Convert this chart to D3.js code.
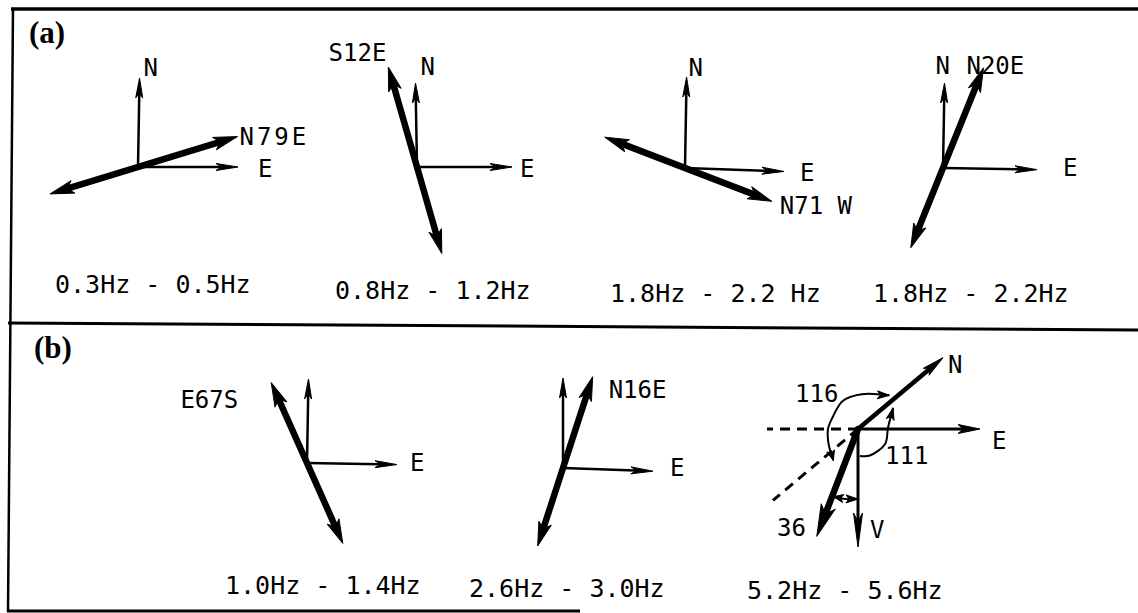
<!DOCTYPE html>
<html><head><meta charset="utf-8">
<script src="https://cdn.jsdelivr.net/npm/d3@7"></script>
<style>html,body{margin:0;padding:0;background:#fff;} svg{display:block}</style>
</head><body>
<svg id="c" width="1138" height="613"></svg>
<script>
// ================= DATA =================
const panelNames = ["(a)", "(b)"];
const freqBands = ["0.3Hz - 0.5Hz", "0.8Hz - 1.2Hz", "1.8Hz - 2.2 Hz", "1.8Hz - 2.2Hz",
                   "1.0Hz - 1.4Hz", "2.6Hz - 3.0Hz", "5.2Hz - 5.6Hz"];
// two-component diagrams (a1..a4, b1, b2)
const polLabels   = ["N79E", "S12E", "N71 W", "N20E", "E67S", "N16E"];
const polAzimuth  = [73, 344, 111, 22, 336, 18];   // drawn direction of labelled end (deg clockwise from up)
const polLenLabel = [104, 104, 93, 108, 88, 96];   // length to labelled end
const polLenOther = [92, 90, 86, 86, 88, 82];      // length to opposite end
const northLen    = [89, 84, 91, 85, 84, 90];
const eastLen     = [100, 95, 99, 94, 90, 90];
const northAz     = [1, -1, 1, 1, 1, 0];
const eastAz      = [90, 90, 92, 91, 91, 92];
const showNorthLabel = [true, true, true, true, false, false];
// three-component diagram (b3, 5.2Hz - 5.6Hz)
const comp3Names   = ["N", "E", "V"];
const comp3Azimuth = [50, 90, 180];
const comp3Len     = [111, 122, 118];
const particleAzimuth = 201, particleLen = 115;
const dashedAzimuth = [270, 230], dashedLen = [91, 111];
const angleLabels = ["116", "111", "36"];
// arcs: [azimuth deg, radius]
const arc116 = [[218, 40], [243, 33], [270, 30], [293, 28], [332, 32], [366, 35], [403, 46]];
const arc111 = [[176, 27], [156, 29], [119, 31], [88, 30], [59, 41]];
const arc36  = [[200, 72], [190, 71], [180, 70]];

// ================= LAYOUT =================
const L = {
  origins: [[138,167],[417,167],[685,168],[943,168],[307,463],[563,468]],
  o3: [858, 429],
  eLabelOff: [[20,1],[8,1],[16,1],[26,-2],[13,-2],[17,-4]],
  nLabelOff: [[4,-11],[5,-17],[2,-10],[-9,-18],[0,0],[0,0]],
  polLabelOff: [[2,0],[-2,-15],[8,4],[-17,-3],[-33,17],[16,13]],
  polLabelAnchor: ["start","end","start","start","end","start"],
  polLabelSpacing: [3, 0, 0, 0, 0, 0],
  freqPos: [[55,284],[335,290],[610,293],[873,293],[225,585],[469,588],[747,590]],
  panelPos: [[29,43],[34,358]],
  lab3: { N:[5,7], E:[12,11], V:[12,-18] },
  ang3: [[795,393],[885,455],[777,527]]
};

const svg = d3.select("#c");
const len = d3.scaleLinear().domain([0, 100]).range([0, 100]);
const rad = d3.scaleLinear().domain([0, 360]).range([0, 2 * Math.PI]);
const FONT = "'DejaVu Sans Mono', monospace";

function endPt(o, az, l) {
  const a = rad(az);
  return [o[0] + len(l) * Math.sin(a), o[1] - len(l) * Math.cos(a)];
}
function arrowHead(g, tip, az, h, w) {
  const a = rad(az);
  const d = [Math.sin(a), -Math.cos(a)], p = [Math.cos(a), Math.sin(a)];
  const b = [tip[0] - h * d[0], tip[1] - h * d[1]];
  g.append("path")
    .attr("d", d3.line()([tip, [b[0] + w * p[0], b[1] + w * p[1]], [b[0] + 0.25*h*d[0], b[1] + 0.25*h*d[1]], [b[0] - w * p[0], b[1] - w * p[1]]]) + "Z")
    .attr("fill", "#000").attr("stroke", "#000").attr("stroke-width", 1).attr("stroke-linejoin", "round");
}
function arrow(g, o, az, l, sw, h, w) {
  const tip = endPt(o, az, l);
  const base = endPt(o, az, l - h * 0.8);
  g.append("line").attr("x1", o[0]).attr("y1", o[1]).attr("x2", base[0]).attr("y2", base[1])
    .attr("stroke", "#000").attr("stroke-width", sw).attr("stroke-linecap", "round");
  arrowHead(g, tip, az, h, w);
  return tip;
}
function label(x, yc, txt, size, anchor, spacing) {
  svg.append("text").attr("x", x).attr("y", yc + size * 0.36)
    .attr("font-family", FONT).attr("font-size", size)
    .attr("letter-spacing", spacing || 0)
    .attr("text-anchor", anchor || "start").attr("fill", "#000").text(txt);
}

// ================= FRAME =================
const frame = svg.append("g").attr("stroke", "#000").attr("fill", "none");
frame.append("line").attr("x1", 11).attr("y1", 9).attr("x2", 1138).attr("y2", 9).attr("stroke-width", 3.5);
frame.append("line").attr("x1", 13).attr("y1", 8).attr("x2", 8).attr("y2", 612).attr("stroke-width", 2.5);
frame.append("line").attr("x1", 8).attr("y1", 323).attr("x2", 1138).attr("y2", 330).attr("stroke-width", 3);
frame.append("line").attr("x1", 7).attr("y1", 611).attr("x2", 580).attr("y2", 611).attr("stroke-width", 3);

panelNames.forEach((t, i) => {
  svg.append("text").attr("x", L.panelPos[i][0]).attr("y", L.panelPos[i][1])
    .attr("font-family", "'Liberation Serif', 'Times New Roman', serif").attr("font-weight", "bold")
    .attr("font-size", 31).text(t);
});

// ================= TWO-COMPONENT DIAGRAMS =================
polLabels.forEach((pl, i) => {
  const o = L.origins[i];
  const g = svg.append("g");
  const nTip = arrow(g, o, northAz[i], northLen[i], 2.5, 20, 3.5);
  const eTip = arrow(g, o, eastAz[i], eastLen[i], 2.5, 22, 3.5);
  // polarization double arrow
  const pA = endPt(o, polAzimuth[i], polLenLabel[i]);
  const pB = endPt(o, polAzimuth[i] + 180, polLenOther[i]);
  const bA = endPt(o, polAzimuth[i], polLenLabel[i] - 18);
  const bB = endPt(o, polAzimuth[i] + 180, polLenOther[i] - 18);
  g.append("line").attr("x1", bB[0]).attr("y1", bB[1]).attr("x2", bA[0]).attr("y2", bA[1])
    .attr("stroke", "#000").attr("stroke-width", 6.5).attr("stroke-linecap", "round");
  arrowHead(g, pA, polAzimuth[i], 24, 6.5);
  arrowHead(g, pB, polAzimuth[i] + 180, 24, 6.5);
  // labels
  label(eTip[0] + L.eLabelOff[i][0], eTip[1] + L.eLabelOff[i][1], "E", 24);
  if (showNorthLabel[i]) label(nTip[0] + L.nLabelOff[i][0], nTip[1] + L.nLabelOff[i][1], "N", 24);
  label(pA[0] + L.polLabelOff[i][0], pA[1] + L.polLabelOff[i][1], pl, 24, L.polLabelAnchor[i], L.polLabelSpacing[i]);
});

// ================= THREE-COMPONENT DIAGRAM =================
{
  const o = L.o3;
  const g = svg.append("g");
  dashedAzimuth.forEach((az, k) => {
    const e = endPt(o, az, dashedLen[k]);
    g.append("line").attr("x1", o[0]).attr("y1", o[1]).attr("x2", e[0]).attr("y2", e[1])
      .attr("stroke", "#000").attr("stroke-width", 3).attr("stroke-dasharray", "10,7");
  });
  const widths = [4.5, 2.8, 3];
  const tips = comp3Names.map((nm, k) =>
    arrow(g, o, comp3Azimuth[k], comp3Len[k], widths[k], k === 2 ? 34 : 22, 4.5));
  comp3Names.forEach((nm, k) => {
    const off = L.lab3[nm];
    label(tips[k][0] + off[0], tips[k][1] + off[1], nm, 24);
  });
  arrow(g, o, particleAzimuth, particleLen, 6.5, 32, 7.5);

  const rl = d3.lineRadial().angle(d => rad(d[0])).radius(d => d[1]).curve(d3.curveCatmullRom);
  const drawArc = (pts, headEnd, headStart) => {
    g.append("path").attr("transform", `translate(${o[0]},${o[1]})`)
      .attr("d", rl(pts)).attr("fill", "none").attr("stroke", "#000").attr("stroke-width", 2);
    const pt = d => endPt(o, d[0], d[1]);
    const dirAz = (a, b) => { const p = pt(a), q = pt(b); return Math.atan2(q[0]-p[0], -(q[1]-p[1])) * 180 / Math.PI; };
    if (headEnd) { const n = pts.length; arrowHead(g, pt(pts[n-1]), dirAz(pts[n-2], pts[n-1]), 12, 4); }
    if (headStart) { arrowHead(g, pt(pts[0]), dirAz(pts[1], pts[0]), 10, 4); }
  };
  drawArc(arc116, true, true);
  drawArc(arc111, true, false);
  drawArc(arc36, true, true);
  angleLabels.forEach((t, k) => label(L.ang3[k][0], L.ang3[k][1], t, 24));
}

// ================= FREQUENCY LABELS =================
freqBands.forEach((t, i) => label(L.freqPos[i][0], L.freqPos[i][1], t, 25));
</script>
</body></html>
